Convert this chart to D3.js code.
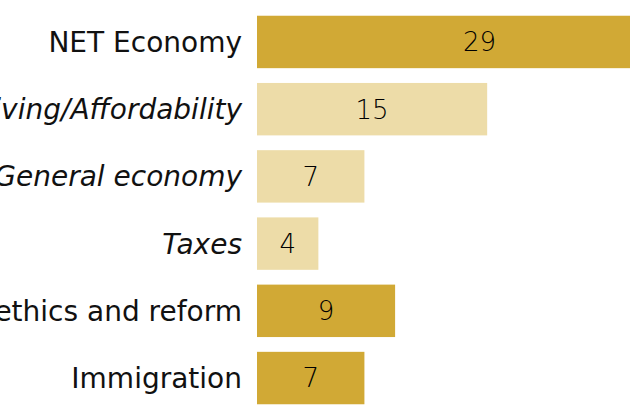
<!DOCTYPE html>
<html><head><meta charset="utf-8">
<script src="https://cdn.jsdelivr.net/npm/d3@7"></script>
<style>html,body{margin:0;padding:0;background:#fff;overflow:hidden}</style>
</head><body>
<script>
const categories = ["NET Economy","Cost of living/Affordability","General economy","Taxes","Government ethics and reform","Immigration"];
const values = [29,15,7,4,9,7];
const italicFlags = [false,true,true,true,false,false];
const shades = ["dark","light","light","light","dark","dark"];

const W=630,H=420;
const svg=d3.select("body").append("svg").attr("width",W).attr("height",H);
const x=d3.scaleLinear().domain([0,29]).range([257,702]);
const y=d3.scaleBand().domain(categories).range([7,413]).paddingInner(0.22).paddingOuter(0.13);
const color=d3.scaleOrdinal().domain(["dark","light"]).range(["#D1A935","#EDDCA8"]);
const data=categories.map((c,i)=>({c,v:values[i],it:italicFlags[i],s:shades[i]}));

svg.selectAll("rect.bar").data(data).join("rect").attr("class","bar")
  .attr("x",x(0)).attr("y",d=>y(d.c)).attr("width",d=>x(d.v)-x(0)).attr("height",y.bandwidth())
  .attr("fill",d=>color(d.s));

svg.selectAll("text.lab").data(data).join("text").attr("class","lab")
  .attr("x",x(0)-15).attr("y",d=>y(d.c)+y.bandwidth()/2).attr("dy","0.36em")
  .attr("text-anchor","end").attr("font-family","DejaVu Sans, sans-serif")
  .attr("font-size",28).attr("font-style",d=>d.it?"italic":"normal").attr("fill","#111")
  .text(d=>d.c);

svg.selectAll("text.val").data(data).join("text").attr("class","val")
  .attr("x",d=>(x(0)+x(d.v))/2).attr("y",d=>y(d.c)+y.bandwidth()/2).attr("dy","0.36em")
  .attr("text-anchor","middle").attr("font-family","DejaVu Sans, sans-serif")
  .attr("font-size",26).attr("font-weight",200).attr("fill","#000")
  .text(d=>d.v);
</script>
</body></html>
